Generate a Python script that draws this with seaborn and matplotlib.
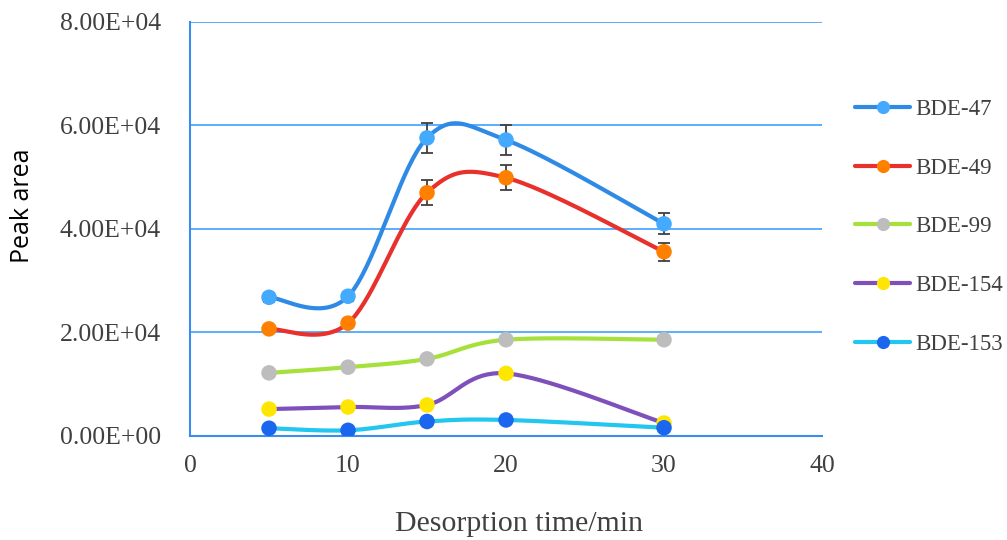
import numpy as np
import pandas as pd
import matplotlib
matplotlib.use("Agg")
import matplotlib.pyplot as plt
from matplotlib.lines import Line2D
from matplotlib.ticker import FuncFormatter
import seaborn as sns

# Data
times = [5, 10, 15, 20, 30]
series_names = ["BDE-47", "BDE-49", "BDE-99", "BDE-154", "BDE-153"]
bde47 = [26800, 27000, 57600, 57200, 41000]
bde49 = [20700, 21800, 47000, 49900, 35600]
bde99 = [12200, 13300, 14900, 18600, 18600]
bde154 = [5200, 5600, 6000, 12100, 2500]
bde153 = [1500, 1100, 2800, 3100, 1600]
err47 = [900, 900, 2900, 2900, 2000]
err49 = [800, 800, 2400, 2400, 1700]
err99 = [300, 300, 400, 400, 400]
err154 = [0, 0, 0, 0, 0]
err153 = [0, 0, 0, 0, 0]

values = [bde47, bde49, bde99, bde154, bde153]
errors = [err47, err49, err99, err154, err153]
line_colors = ["#2f8ae6", "#e8302c", "#a6e03a", "#7e50bb", "#22c6ee"]
marker_colors = ["#44aaff", "#ff7f00", "#bdbdbd", "#ffe600", "#1a66ee"]


def excel_smooth(x, y, n=40):
    # cubic bezier through the points, like Excel's "smoothed line"
    x = np.asarray(x, float)
    y = np.asarray(y, float)
    px = np.concatenate([[x[0]], x, [x[-1]]])
    py = np.concatenate([[y[0]], y, [y[-1]]])
    xs, ys = [], []
    t = np.linspace(0, 1, n)
    for i in range(len(x) - 1):
        p0 = np.array([px[i + 1], py[i + 1]])
        p3 = np.array([px[i + 2], py[i + 2]])
        c1 = p0 + (np.array([px[i + 2], py[i + 2]]) - np.array([px[i], py[i]])) / 6
        c2 = p3 - (np.array([px[i + 3], py[i + 3]]) - np.array([px[i + 1], py[i + 1]])) / 6
        b = ((1 - t) ** 3)[:, None] * p0 + (3 * (1 - t) ** 2 * t)[:, None] * c1 \
            + (3 * (1 - t) * t ** 2)[:, None] * c2 + (t ** 3)[:, None] * p3
        xs.append(b[:, 0])
        ys.append(b[:, 1])
    return np.concatenate(xs), np.concatenate(ys)


sns.set_style("white")
plt.rcParams["font.family"] = ["Liberation Serif", "DejaVu Serif"]

fig = plt.figure(figsize=(10.07, 5.40), dpi=100)
ax = fig.add_axes([0.1887, 0.1926, 0.6276, 0.7667])

df = pd.DataFrame({
    "time": np.tile(times, len(series_names)),
    "area": np.concatenate(values),
    "series": np.repeat(series_names, len(times)),
})

for name, y, e, lc in zip(series_names, values, errors, line_colors):
    sx, sy = excel_smooth(times, y)
    ax.plot(sx, sy, color=lc, lw=3, zorder=2, solid_capstyle="round")
    if max(e) > 0:
        ax.errorbar(times, y, yerr=e, fmt="none", ecolor="#404040",
                    elinewidth=1.3, capsize=4, capthick=1.3, zorder=3)

for name, mc in zip(series_names, marker_colors):
    sns.scatterplot(data=df[df["series"] == name], x="time", y="area",
                    color=mc, s=125, edgecolor="none", ax=ax, zorder=4,
                    legend=False)

ax.set_xlim(0, 40)
ax.set_ylim(0, 80000)
ax.set_xticks([0, 10, 20, 30, 40])
ax.set_yticks([0, 20000, 40000, 60000, 80000])
ax.yaxis.set_major_formatter(FuncFormatter(lambda v, p: "{:.2E}".format(v)))
ax.grid(axis="y", color="#3fa0ff", lw=1.2)
ax.set_axisbelow(True)

for side in ["top", "right"]:
    ax.spines[side].set_visible(False)
for side in ["left", "bottom"]:
    ax.spines[side].set_color("#3a8cf0")
    ax.spines[side].set_linewidth(1.5)

ax.tick_params(axis="y", length=4, width=1.2, color="#3a8cf0",
               labelsize=18.5, labelcolor="#404040", pad=17)
ax.tick_params(axis="x", length=0, labelsize=18.5, labelcolor="#404040", pad=14)

ax.set_xlabel("Desorption time/min", fontsize=21.5, color="#404040", labelpad=24)
ax.xaxis.label.set_x(0.52)
ax.set_ylabel("Peak area", fontsize=18, family=["Open Sans", "DejaVu Sans"],
              color="black", labelpad=18)
ax.yaxis.label.set_y(0.557)

handles = [Line2D([0], [0], color=lc, lw=3, marker="o", markersize=9.5,
                  markerfacecolor=mc, markeredgecolor="none")
           for lc, mc in zip(line_colors, marker_colors)]
ax.legend(handles, series_names, loc="center left", bbox_to_anchor=(1.02, 0.505),
          frameon=False, fontsize=16.5, handlelength=2.4, handletextpad=0.2,
          labelspacing=1.65, labelcolor="#404040")

fig.savefig("out.png", dpi=100)
